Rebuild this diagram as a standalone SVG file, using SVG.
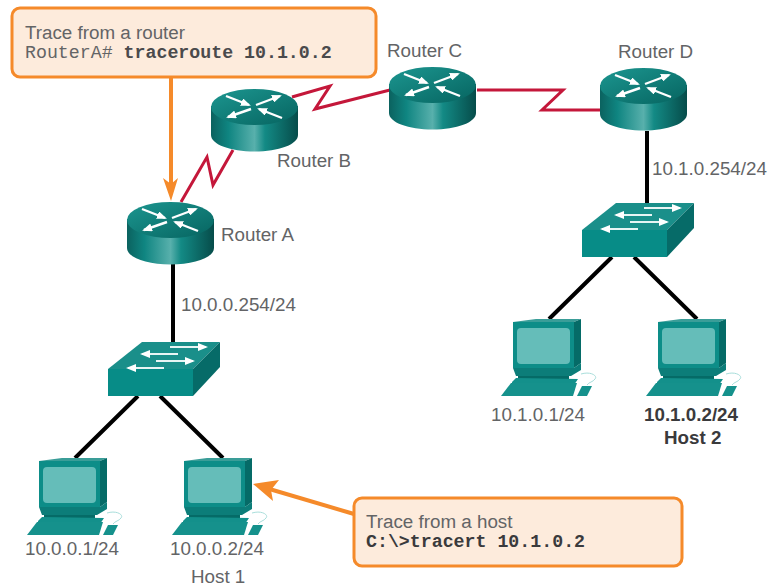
<svg xmlns="http://www.w3.org/2000/svg" width="775" height="586" viewBox="0 0 775 586">
<style>
text{font-family:"Liberation Sans",Arial,sans-serif;font-size:18.8px;fill:#636466}
.mono{font-family:"Liberation Mono","Courier New",monospace;font-size:18.25px}
.b{font-weight:bold;fill:#4a4a4c}
.bk{font-weight:bold;fill:#3a3a3c}
.serial{fill:none;stroke:#c4173a;stroke-width:3}
.eth{fill:none;stroke:#000;stroke-width:4}
.call{fill:#fdebdc;stroke:#f58a2a;stroke-width:3}
.ar{stroke:#fff;stroke-width:2.4;fill:none;marker-end:url(#wh)}
.as{stroke:#e8f5f4;stroke-width:2;fill:none;marker-end:url(#wh)}
</style>
<defs>
<marker id="wh" markerWidth="11" markerHeight="8" refX="8" refY="4" orient="auto" markerUnits="userSpaceOnUse"><path d="M0 0L10 4L0 8Z" fill="#fff"/></marker>
<linearGradient id="rb" x1="0" x2="1" y1="0" y2="0"><stop offset="0" stop-color="#0b625f"/><stop offset=".2" stop-color="#0f8581"/><stop offset=".5" stop-color="#58b0ac"/><stop offset=".62" stop-color="#138a85"/><stop offset="1" stop-color="#064c4a"/></linearGradient>
<linearGradient id="rt" x1="0" x2="1" y1="0" y2="1"><stop offset="0" stop-color="#1c9690"/><stop offset="1" stop-color="#066460"/></linearGradient>
<symbol id="router" width="88" height="63" viewBox="0 0 88 63" overflow="visible">
<path d="M0 17V46C0 55.500 19.500 62.500 43.500 62.500S87 55.500 87 46V17Z" fill="url(#rb)"/>
<ellipse cx="43.500" cy="18" rx="43.500" ry="18" fill="url(#rt)"/>
<path class="ar" d="M15 7L38 16"/><path class="ar" d="M45 16L69 7"/><path class="ar" d="M40 20L17 28"/><path class="ar" d="M71 29L48 20"/>
</symbol>
<symbol id="switch" width="115" height="56" viewBox="0 0 115 56" overflow="visible">
<path d="M0 27L34 0H112L85 27Z" fill="#1a8f8a"/>
<path d="M85 27L112 0V25L85 54Z" fill="#066b68"/>
<rect y="27" width="85" height="27" fill="#078c87"/>
<path class="as" d="M62 5H98"/><path class="as" d="M70 12H34"/><path class="as" d="M48 19H85"/><path class="as" d="M56 26H20"/>
</symbol>
<symbol id="pc" width="100" height="82" viewBox="0 0 100 82" overflow="visible">
<path d="M12 3L35 0H80L73 3Z" fill="#3a9d98"/>
<path d="M73 3L80 0V44L73 49Z" fill="#056b67"/>
<rect x="12" y="3" width="61" height="46" fill="#0d8d88"/>
<rect x="16" y="9" width="53" height="36" rx="4" fill="#65bdb9"/>
<path d="M80 55C90 52 97 57 94 60C92 63 88 63 86 66" fill="none" stroke="#a8dedb" stroke-width="1"/>
<path d="M12 49H73L80 44V51L70 57H15Z" fill="#0c7d79"/>
<path d="M17 57H68V63H17Z" fill="#056b67"/>
<path d="M15 59L11 63V66H73L77 60Z" fill="#13908b"/>
<path d="M10 64H76L72 77H0Z" fill="#15918c"/>
<path d="M76 77L81 67H91L86 77Z" fill="#15918c"/>
</symbol>
</defs>
<g id="connectors">
<path class="serial" d="M181 202L207 157L213 185L233 150"/>
<path class="serial" d="M292 97L330 86L315 109L390 90"/>
<path class="serial" d="M477 90H563L542 110H600"/>
<path class="eth" d="M173 264V342M138 396L75 458M160 396L223 458"/>
<path class="eth" d="M647 131V203M612 257L549 319M634 257L697 319"/>
</g>
<g id="router-a"><use href="#router" x="127" y="202"/><text x="221" y="241">Router A</text></g>
<g id="router-b"><use href="#router" x="211" y="89"/><text x="277" y="167">Router B</text></g>
<g id="router-c"><use href="#router" x="389" y="67"/><text x="387" y="57">Router C</text></g>
<g id="router-d"><use href="#router" x="600" y="68"/><text x="618" y="58">Router D</text></g>
<g id="switch-1"><use href="#switch" x="108" y="342"/><text x="181" y="311">10.0.0.254/24</text></g>
<g id="switch-2"><use href="#switch" x="582" y="203"/><text x="652" y="175">10.1.0.254/24</text></g>
<g id="pc-1"><use href="#pc" x="27" y="458"/><text x="25" y="555">10.0.0.1/24</text></g>
<g id="pc-2"><use href="#pc" x="172" y="458"/><text x="170" y="555">10.0.0.2/24</text><text x="191" y="583">Host 1</text></g>
<g id="pc-3"><use href="#pc" x="501" y="319"/><text x="491" y="421">10.1.0.1/24</text></g>
<g id="pc-4"><use href="#pc" x="646" y="319"/><text class="bk" x="644" y="421" font-size="17.500">10.1.0.2/24</text><text class="bk" x="664" y="444">Host 2</text></g>
<g id="callout-router">
<path d="M171 76V190" stroke="#f58a2a" stroke-width="4" fill="none"/>
<path d="M171 201L163 178L171 184L178 178Z" fill="#f58a2a"/>
<rect class="call" x="12" y="8" width="364" height="69" rx="8"/>
<text x="25" y="39">Trace from a router</text>
<text class="mono" x="25" y="58">RouterA# <tspan class="b">traceroute 10.1.0.2</tspan></text>
</g>
<g id="callout-host">
<path d="M354 514L266 488" stroke="#f58a2a" stroke-width="4" fill="none"/>
<path d="M253 484L279 480L271 490L273 501Z" fill="#f58a2a"/>
<rect class="call" x="354" y="498" width="328" height="68" rx="8"/>
<text x="366" y="528">Trace from a host</text>
<text class="mono bk" x="366" y="547">C:\&gt;tracert 10.1.0.2</text>
</g>
</svg>
